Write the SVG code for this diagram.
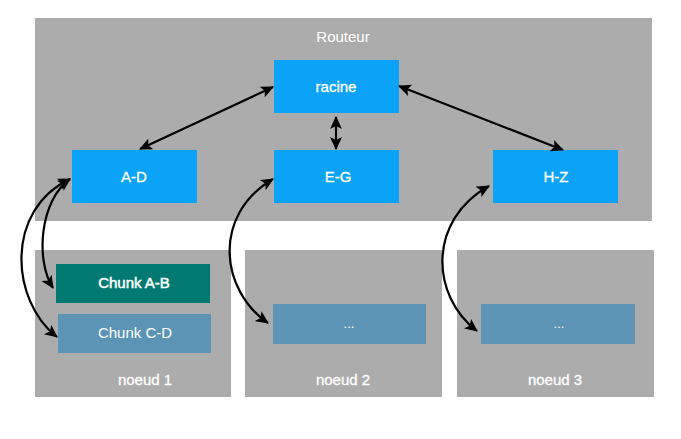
<svg xmlns="http://www.w3.org/2000/svg" width="681" height="439" viewBox="0 0 681 439">
<defs>
<marker id="ah" markerUnits="userSpaceOnUse" markerWidth="14" markerHeight="12" viewBox="0 0 14 12" refX="12" refY="6" orient="auto-start-reverse">
<path d="M0,0 L13,6 L0,12 L3,6 z" fill="#000"/>
</marker>
</defs>
<style>
.grey{fill:#acacac}
.blue{fill:#0ba3f7}
.teal{fill:#007a70}
.steel{fill:#5b94b4}
text{font-family:"Liberation Sans",Arial,sans-serif;fill:#fff;text-anchor:middle}
.lbl{font-size:15px;stroke:#fff;stroke-width:0.3}
.thin{font-size:15px}
.small{font-size:13px}
.ar{fill:none;stroke:#000;stroke-width:2.2;marker-start:url(#ah);marker-end:url(#ah)}
</style>
<rect width="681" height="439" fill="#fff"/>
<g id="routeur">
<rect class="grey" x="35" y="18" width="617" height="203"/>
<text class="thin" x="343" y="42">Routeur</text>
</g>
<g id="noeud1">
<rect class="grey" x="35" y="250" width="196" height="147"/>
<text class="lbl" x="145" y="385">noeud 1</text>
</g>
<g id="noeud2">
<rect class="grey" x="245" y="250" width="197" height="147"/>
<text class="lbl" x="343" y="385">noeud 2</text>
</g>
<g id="noeud3">
<rect class="grey" x="457" y="250" width="197" height="147"/>
<text class="lbl" x="555" y="385">noeud 3</text>
</g>
<g id="racine">
<rect class="blue" x="274" y="60" width="125" height="53"/>
<text class="lbl" x="336" y="92">racine</text>
</g>
<g id="ad">
<rect class="blue" x="72" y="150" width="125" height="53"/>
<text class="lbl" x="134" y="182">A-D</text>
</g>
<g id="eg">
<rect class="blue" x="274" y="150" width="125" height="53"/>
<text class="lbl" x="338" y="182">E-G</text>
</g>
<g id="hz">
<rect class="blue" x="493" y="150" width="125" height="53"/>
<text class="lbl" x="556" y="182">H-Z</text>
</g>
<g id="chunkab">
<rect class="teal" x="56" y="264" width="154" height="39"/>
<text class="lbl" x="134" y="288" style="stroke-width:0.5">Chunk A-B</text>
</g>
<g id="chunkcd">
<rect class="steel" x="58" y="314" width="153" height="39"/>
<text class="thin" x="135" y="338">Chunk C-D</text>
</g>
<g id="dots2">
<rect class="steel" x="273" y="304" width="153" height="40"/>
<text class="small" x="349" y="328">...</text>
</g>
<g id="dots3">
<rect class="steel" x="481" y="304" width="154" height="40"/>
<text class="small" x="559" y="328">...</text>
</g>
<g id="connectors">
<path class="ar" d="M273,87 L140,149"/>
<path class="ar" d="M399,86 L563,150"/>
<path class="ar" d="M336,117 L336,149"/>
<path class="ar" d="M70,179 C5,210 10,300 57,337"/>
<path class="ar" d="M70,179 C40,200 35,260 53,288"/>
<path class="ar" d="M273,179 C212,215 220,290 268,323"/>
<path class="ar" d="M489,186 C428,220 430,295 477,331"/>
</g>
</svg>
